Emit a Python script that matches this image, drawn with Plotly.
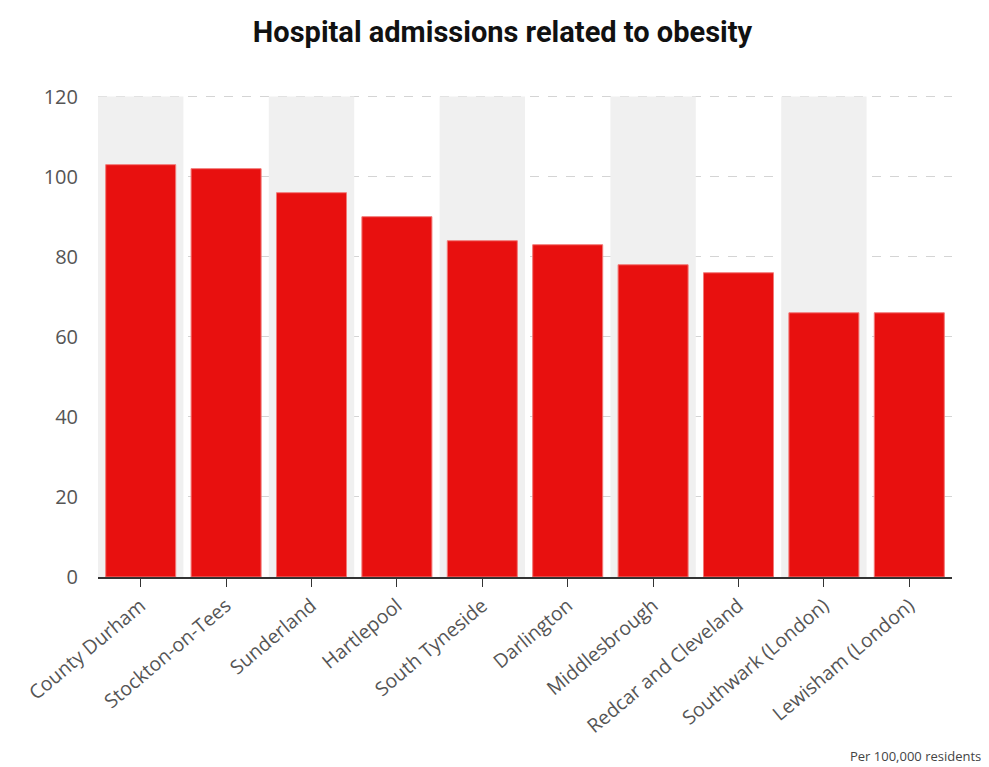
import plotly.graph_objects as go

# Hospital admissions related to obesity, per 100,000 residents
areas = ["County Durham", "Stockton-on-Tees", "Sunderland", "Hartlepool", "South Tyneside",
         "Darlington", "Middlesbrough", "Redcar and Cleveland", "Southwark (London)", "Lewisham (London)"]
admissions = [103, 102, 96, 90, 84, 83, 78, 76, 66, 66]
y_ticks = [0, 20, 40, 60, 80, 100, 120]

fig = go.Figure()

fig.add_trace(go.Bar(
    x=list(range(len(areas))),
    y=admissions,
    marker=dict(color="#e8100f", line=dict(color="#f27a78", width=1)),
    hovertemplate="%{text}: %{y}<extra></extra>",
    text=areas,
    textposition="none",
))

# alternating grey bands behind every other category
for i in range(0, len(areas), 2):
    fig.add_shape(type="rect", xref="x", yref="y", x0=i - 0.5, x1=i + 0.5, y0=0, y1=max(y_ticks),
                  fillcolor="#f0f0f0", line=dict(width=0), layer="between")

fig.update_layout(
    width=989, height=767,
    margin=dict(l=90, r=45, t=87, b=198),
    paper_bgcolor="white", plot_bgcolor="white",
    bargap=0.18,
    showlegend=False,
    font=dict(family="Open Sans, sans-serif", color="#555555", size=16),
    title=dict(text="<b>Hospital admissions related to obesity</b>", x=0.5, xanchor="center",
               y=0.969, yanchor="middle",
               font=dict(family="Roboto, sans-serif", size=29, color="#111111")),
)

fig.update_xaxes(
    tickmode="array", tickvals=list(range(len(areas))), ticktext=areas,
    tickangle=-40, range=[-0.5, len(areas) - 0.5],
    showgrid=False, showline=True, linecolor="#333333", linewidth=1.5,
    ticks="outside", ticklen=8, tickcolor="#333333",
    tickfont=dict(size=19.5, color="#555555"),
)
fig.update_yaxes(
    range=[0, 120.4], tickvals=y_ticks,
    showgrid=True, gridcolor="#d4d4d4", griddash="dash", gridwidth=1,
    zeroline=False, showline=False, ticks="", ticklabelstandoff=19,
    tickfont=dict(size=20, color="#555555"),
)

fig.add_annotation(text="Per 100,000 residents", xref="paper", yref="paper",
                   x=1.036, y=-0.371, xanchor="right", yanchor="middle", showarrow=False,
                   font=dict(size=13, color="#444444"))

fig.write_html("out.html")
